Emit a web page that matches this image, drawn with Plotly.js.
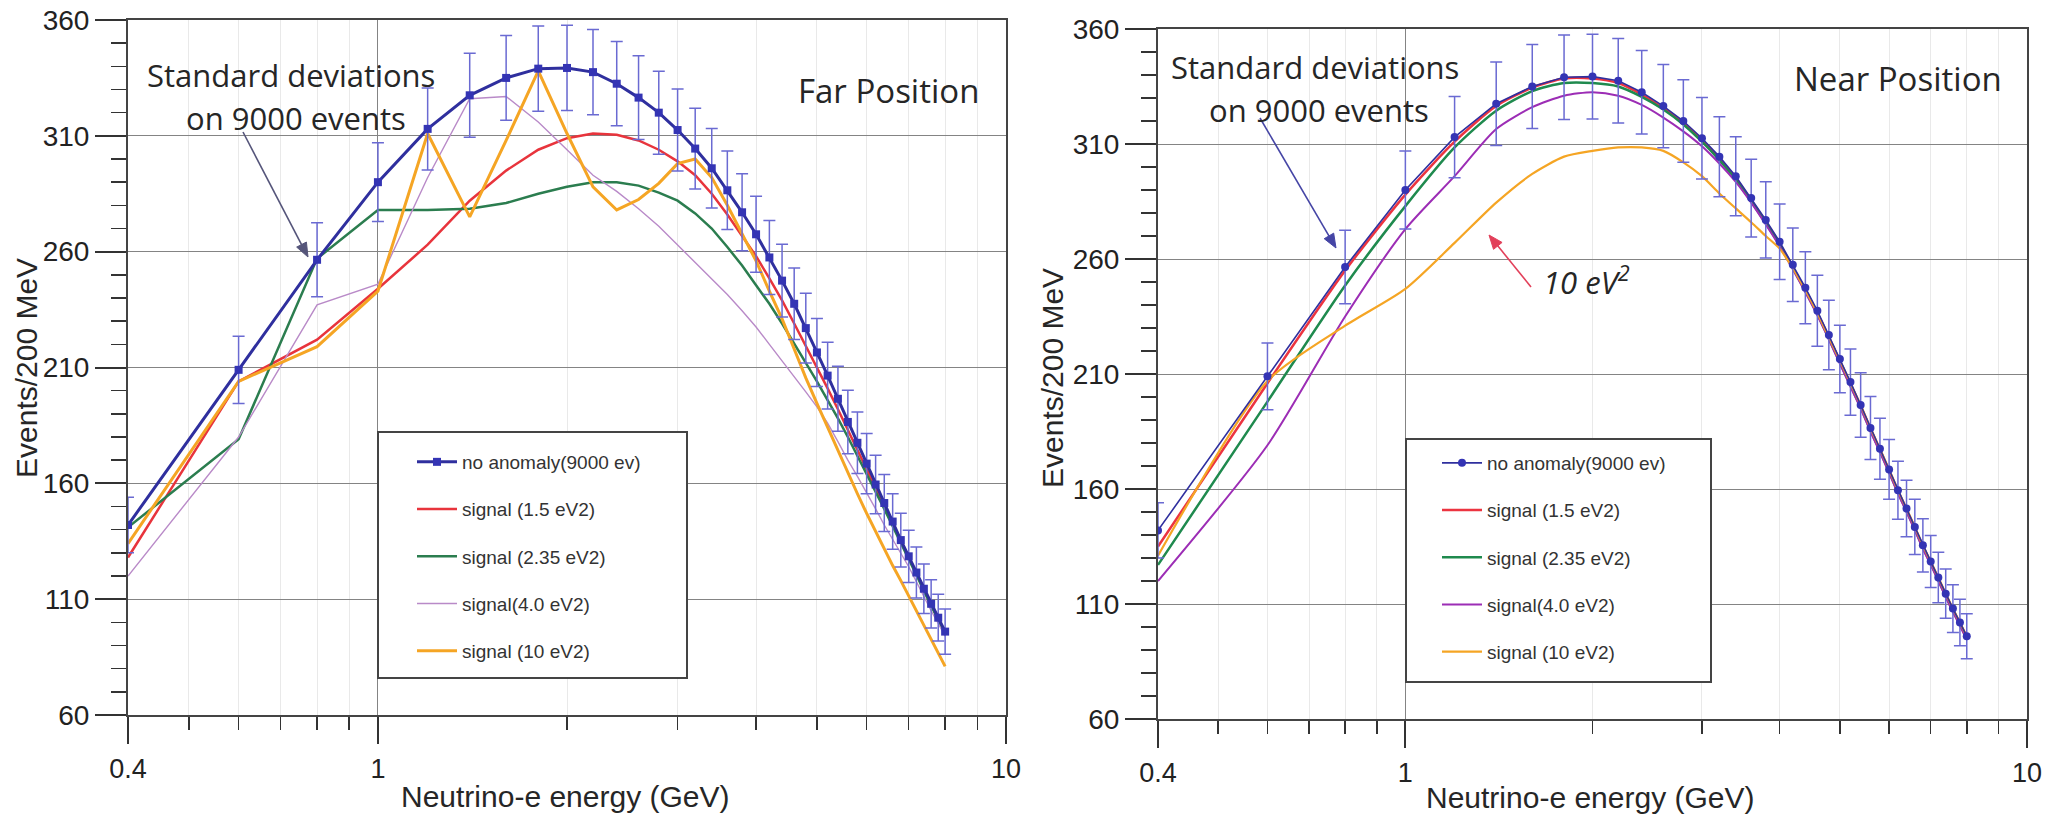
<!DOCTYPE html>
<html><head><meta charset="utf-8">
<script src="https://cdn.plot.ly/plotly-3.0.1.min.js"></script>
<style>html,body{margin:0;padding:0;background:#fff}#chart{width:2062px;height:816px}</style>
</head><body><div id="chart"></div>
<script>
// ---- data ----
const energy = [0.4,0.6,0.8,1.0,1.2,1.4,1.6,1.8,2.0,2.2,2.4,2.6,2.8,3.0,3.2,3.4,3.6,3.8,4.0,4.2,4.4,4.6,4.8,5.0,5.2,5.4,5.6,5.8,6.0,6.2,6.4,6.6,6.8,7.0,7.2,7.4,7.6,7.8,8.0];
const noAnomaly = [142,209,256.5,290,313,327.5,335,339,339.3,337.5,332.5,326.5,320,312.5,304.5,296,286.5,277,267.5,257.5,247.5,237.5,227,216.5,206.5,196.5,186.5,177.5,168.5,159.5,151.5,143.5,135.5,128.5,121.5,114.5,108,102,96];
const noAnomalyErr = [12,14.5,16,17,17.7,18.1,18.3,18.4,18.4,18.4,18.2,18.1,17.9,17.7,17.4,17.2,16.9,16.6,16.4,16,15.7,15.4,15.1,14.7,14.4,14,13.7,13.3,13,12.6,12.3,12,11.6,11.3,11,10.7,10.4,10.1,9.8];

const farSig15 = [128,204,222,244,263,282,295,304,309,311,310.5,308,304,299,293,285,276,267,258,248.5,239,229,219.5,210,201,192,183,175,166,158,150,142.5,135,128,121,114,107.5,101.5,95.5];
const farSig235 = [141,179,257,278,278,278.5,281,285,288,290,290,288.5,285.5,282,276.5,270,262,254,245.5,237.5,229,220,212,204,196,188,180,172,164,156.5,149,141.5,134.5,127.5,120.5,113.5,107,101,95];
const farSig40 = [120,180,237,246,292,326,327,316,304,293,286,278.5,271,263,255.5,248.5,241.5,234.5,227.5,220,213,206,199.5,193,186,178,170,163,156,149,142,136,130,124,117.5,111,105,99.5,94];
const farSig10 = [134,204,219,243,311,275,308,338,311,288,278,282.5,289.5,298,300,292,280,268,256,243,231,218,205.5,194.5,184,174,164.5,155.5,147,139,131.5,124.5,118,111.5,105,99,93,87,81];

const nearSig15 = [135,206,255,288,311,326.5,334.5,338.5,338.5,336.5,331.5,325.5,319,311.5,303.5,295,285.5,276,266.5,256.5,246.5,236.5,226,215.5,205.5,196,186,177,168,159,151,143,135,128,121,114,107.5,101.5,95.5];
const nearSig235 = [127,198,248.5,283,308.5,324.5,333,336.5,336.5,335,330.5,325,318.5,311,303,294.5,285,275.5,266,256,246,236,225.5,215,205,195.5,185.5,176.5,167.5,158.5,150.5,142.5,134.5,127.5,120.5,113.5,107,101,95];
const nearSig40 = [120,179,235,273,296,316.5,326,331,332.5,331,327,321.5,315.5,309,301.5,293.5,284.5,275,265.5,255.5,245.5,235.5,225,214.5,204.5,195,185,176,167,158,150,142,134,127,120,113,106.5,100.5,94.5];
const nearSig10 = [131,207,231,247,267,284.5,297,304.5,307,308.5,308.5,307,302,296,288.5,282,276,270,264.5,256,246.5,236.5,226,216,206,196.5,186.5,177.5,168.5,159.5,151.5,143.5,135.5,128.5,121.5,114.5,108,102,96];

const seriesNames = ["no anomaly(9000 ev)","signal (1.5 eV2)","signal (2.35 eV2)","signal(4.0 eV2)","signal (10 eV2)"];
const xTickVals = [0.4,1,10];
const xTickText = ["0.4","1","10"];
const xMinorVals = [0.5,0.6,0.7,0.8,0.9,2,3,4,5,6,7,8,9];
const yTickVals = [60,110,160,210,260,310,360];
const yTickText = ["60","110","160","210","260","310","360"];

// ---- layout helpers ----
const W = 2062, H = 816;
const fx = p => p / W;
const fy = p => 1 - p / H;
const TICKFONT = "Liberation Sans, Arial, sans-serif";
const ANNFONT = "Open Sans, sans-serif";

function xAxis(x0, x1, anchor) {
  return {
    type: "log", range: [Math.log10(0.4), 1], domain: [fx(x0), fx(x1)], anchor: anchor,
    tickmode: "array", tickvals: xTickVals, ticktext: xTickText,
    ticks: "outside", ticklen: 27, tickwidth: 2, tickcolor: "#333",
    ticklabelstandoff: 2,
    tickfont: {family: TICKFONT, size: 27, color: "#222"},
    showline: true, linecolor: "#444", linewidth: 2, mirror: true,
    showgrid: true, gridcolor: "#848484", gridwidth: 1, zeroline: false,
    minor: {tickmode: "array", tickvals: xMinorVals, ticks: "outside", ticklen: 13, tickwidth: 1.5, tickcolor: "#333",
            showgrid: true, gridcolor: "#e9e9e9", gridwidth: 1},
    fixedrange: true
  };
}
function yAxis(y0, y1, anchor) {
  return {
    range: [60, 360], domain: [fy(y1), fy(y0)], anchor: anchor,
    tickmode: "array", tickvals: yTickVals, ticktext: yTickText,
    ticks: "outside", ticklen: 31, tickwidth: 2, tickcolor: "#333",
    tickfont: {family: TICKFONT, size: 28, color: "#222"},
    showline: true, linecolor: "#444", linewidth: 2, mirror: true,
    showgrid: true, gridcolor: "#848484", gridwidth: 1, zeroline: false,
    minor: {dtick: 10, tick0: 60, ticks: "outside", ticklen: 15, tickwidth: 1.5, tickcolor: "#333", showgrid: false},
    fixedrange: true
  };
}

function sig(y, name, color, width, xa, ya, legend, rank, shape) {
  return {
    x: energy, y: y, name: name, type: "scatter", mode: "lines",
    xaxis: xa, yaxis: ya, legend: legend, legendgroup: legend + rank, legendrank: rank,
    line: {color: color, width: width, shape: shape || "linear", smoothing: 0.7}
  };
}
function blue(xa, ya, legend, lineW, symbol) {
  return {
    x: energy, y: noAnomaly, name: seriesNames[0], type: "scatter", mode: "lines+markers",
    xaxis: xa, yaxis: ya, legend: legend, legendgroup: legend + "1", legendrank: 1,
    line: {color: "#2f2f9e", width: lineW},
    marker: {symbol: symbol, size: 8, color: "#3434b4"},
    error_y: {type: "data", array: noAnomalyErr, visible: true, color: "#6a6ad2", thickness: 1.5, width: 6}
  };
}

const traces = [
  sig(farSig15, seriesNames[1], "#e8343c", 2.5, "x", "y", "legend", 2),
  sig(farSig235, seriesNames[2], "#2b7d4f", 2.5, "x", "y", "legend", 3),
  sig(farSig40, seriesNames[3], "#b98ac8", 1.4, "x", "y", "legend", 4),
  sig(farSig10, seriesNames[4], "#f5a524", 3, "x", "y", "legend", 5),
  blue("x", "y", "legend", 3, "square"),
  sig(nearSig15, seriesNames[1], "#ec3440", 2.5, "x2", "y2", "legend2", 2, "spline"),
  sig(nearSig235, seriesNames[2], "#1f8a4e", 2.5, "x2", "y2", "legend2", 3, "spline"),
  sig(nearSig40, seriesNames[3], "#9c2db5", 2, "x2", "y2", "legend2", 4, "spline"),
  sig(nearSig10, seriesNames[4], "#f5a524", 2.2, "x2", "y2", "legend2", 5, "spline"),
  blue("x2", "y2", "legend2", 1.6, "circle")
];

function legendCfg(left, top) {
  return {
    x: fx(left), y: fy(top), xanchor: "left", yanchor: "top",
    bgcolor: "rgba(0,0,0,0)", borderwidth: 0,
    traceorder: "grouped", tracegroupgap: 19.5, itemwidth: 40,
    font: {family: TICKFONT, size: 19, color: "#333"}
  };
}

// pointer arrows (decoration): a line plus a filled head, in page pixels
function arrowShapes(S, T, color) {
  const dx = T[0] - S[0], dy = T[1] - S[1], L = Math.hypot(dx, dy);
  const ux = dx / L, uy = dy / L, nx = -uy, ny = ux;
  const hl = 14, hw = 5.5;
  const bx = T[0] - hl * ux, by = T[1] - hl * uy;
  return [
    {type: "line", xref: "paper", yref: "paper", layer: "above",
     x0: fx(S[0]), y0: fy(S[1]), x1: fx(bx + 2 * ux), y1: fy(by + 2 * uy),
     line: {color: color, width: 1.6}},
    {type: "path", xref: "paper", yref: "paper", layer: "above",
     path: "M " + fx(T[0]) + "," + fy(T[1]) +
           " L " + fx(bx + hw * nx) + "," + fy(by + hw * ny) +
           " L " + fx(bx - hw * nx) + "," + fy(by - hw * ny) + " Z",
     fillcolor: color, line: {color: color, width: 1}}
  ];
}

function label(text, x, y, font, size, extra) {
  return Object.assign({xref: "paper", yref: "paper", x: fx(x), y: fy(y), xanchor: "center", yanchor: "middle",
    showarrow: false, text: text, font: {family: font, size: size, color: "#262626"}}, extra || {});
}

const layout = {
  width: W, height: H,
  margin: {l: 0, r: 0, t: 0, b: 0, autoexpand: false},
  paper_bgcolor: "#ffffff", plot_bgcolor: "#ffffff",
  showlegend: true,
  xaxis: xAxis(128, 1006, "y"),
  yaxis: yAxis(20, 715, "x"),
  xaxis2: xAxis(1158, 2027, "y2"),
  yaxis2: yAxis(29, 719, "x2"),
  legend: legendCfg(412, 443),
  legend2: legendCfg(1437, 444),
  shapes: [
    {type: "rect", xref: "paper", yref: "paper", x0: fx(378), x1: fx(687), y0: fy(432), y1: fy(678),
     line: {color: "#444", width: 2}, fillcolor: "#ffffff", layer: "above"},
    {type: "rect", xref: "paper", yref: "paper", x0: fx(1406), x1: fx(1711), y0: fy(439), y1: fy(682),
     line: {color: "#444", width: 2}, fillcolor: "#ffffff", layer: "above"}
  ].concat(
    arrowShapes([243, 132], [308, 257], "#55557a"),
    arrowShapes([1260, 118], [1336, 248], "#4545a5"),
    arrowShapes([1531, 287], [1489, 235], "#e2405a")
  ),
  annotations: [
    label("Standard deviations", 291, 75, ANNFONT, 31),
    label("on 9000 events", 296, 118, ANNFONT, 31),
    label("Far Position", 888, 90, ANNFONT, 33),
    label("Standard deviations", 1315, 67, ANNFONT, 31),
    label("on 9000 events", 1319, 110, ANNFONT, 31),
    label("Near Position", 1898, 78, ANNFONT, 33),
    label("<i>10 eV<sup>2</sup></i>", 1586, 280, ANNFONT, 31),
    label("Neutrino-e energy (GeV)", 565, 796, TICKFONT, 30),
    label("Neutrino-e energy (GeV)", 1590, 797, TICKFONT, 30),
    label("Events/200 MeV", 27, 368, TICKFONT, 30, {textangle: -90}),
    label("Events/200 MeV", 1052, 378, TICKFONT, 30, {textangle: -90})
  ]
};

Plotly.newPlot("chart", traces, layout, {displayModeBar: false, staticPlot: true});
</script></body></html>
